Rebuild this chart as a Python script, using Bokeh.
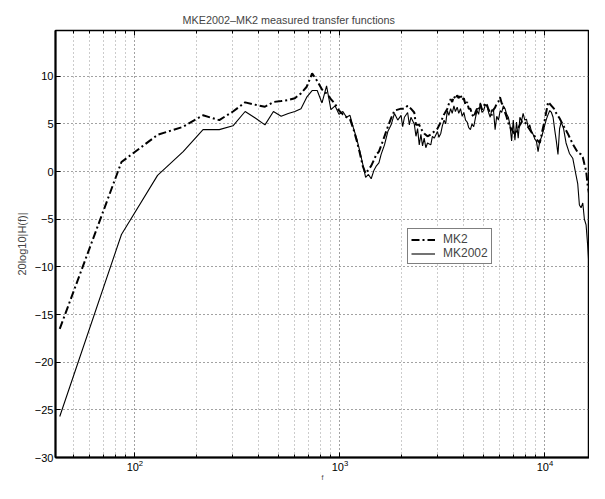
from bokeh.plotting import figure
from bokeh.models import LogAxis, FixedTicker, Legend, LegendItem, Range1d
from bokeh.embed import file_html
from bokeh.resources import INLINE

# ---- data ----
f_mk2002 = [43, 86, 129, 172, 215, 258, 301, 345, 388, 431, 474, 517, 560, 603, 646, 689, 732, 775, 818, 861,
            904, 947, 990, 1034, 1077, 1120, 1163, 1206, 1249, 1292, 1335, 1378, 1421, 1464, 1507, 1550, 1589,
            1650, 1713, 1778, 1846, 1915, 1988, 2024, 2064, 2140, 2182, 2220, 2305, 2350, 2393, 2438, 2484, 2530,
            2577, 2625, 2675, 2775, 2826, 2884, 2992, 3040, 3105, 3160, 3222, 3280, 3343, 3400, 3469, 3530, 3599,
            3660, 3734, 3800, 3875, 3950, 4024, 4100, 4175, 4250, 4331, 4410, 4495, 4580, 4665, 4750, 4841, 4930,
            5024, 5120, 5213, 5310, 5410, 5510, 5614, 5716, 5820, 5934, 6050, 6156, 6270, 6390, 6510, 6630, 6750,
            6880, 7010, 7140, 7270, 7410, 7550, 7690, 7830, 7980, 8130, 8290, 8440, 8600, 8760, 8930, 9090, 9260,
            9440, 9620, 9800, 9990, 10170, 10370, 10560, 10760, 10960, 11160, 11370, 11580, 11790, 12010, 12330,
            12680, 13170, 13670, 14190, 14460, 14730, 15010, 15300, 15580, 15880, 16160, 16470, 16800, 17100,
            17440, 17770, 18100, 18430, 18790]
db_mk2002 = [-25.7, -6.6, -0.4, 2.1, 4.4, 4.4, 4.8, 6.3, 5.6, 4.9, 6.3, 5.8, 6.1, 6.3, 6.6, 7.8, 8.5, 8.5, 7.2, 9.0,
             6.5, 6.9, 6.0, 6.3, 5.7, 5.9, 4.6, 3.5, 2.2, 0.8, -0.6, -0.3, -0.75, 0.1, 0.6, 0.9, 1.8,
             2.8, 4.2, 4.9, 6.1, 5.4, 5.9, 4.7, 5.7, 6.2, 4.9, 5.7, 5.0, 3.7, 4.5, 2.8, 3.9, 2.7,
             3.5, 2.5, 3.0, 2.8, 3.7, 3.5, 4.2, 3.6, 4.0, 4.8, 5.4, 5.0, 6.4, 5.9, 6.6, 6.1, 6.9,
             6.3, 6.75, 6.1, 6.6, 5.8, 6.2, 5.4, 5.2, 4.6, 4.4, 5.0, 4.7, 5.6, 6.4, 6.0, 7.2, 6.2,
             6.4, 7.0, 6.9, 6.2, 5.7, 6.5, 6.4, 4.4, 5.8, 5.4, 6.4, 6.2, 6.9, 6.6, 6.0, 5.7, 4.9,
             3.2, 5.4, 3.3, 5.2, 3.5, 5.7, 5.3, 6.1, 5.4, 5.5, 4.6, 4.9, 4.2, 3.9, 3.4, 3.2, 2.1,
             3.2, 3.6, 4.2, 4.9, 5.5, 6.0, 6.4, 6.2, 5.7, 4.4, 3.2, 1.8, 4.5, 5.2, 4.5,
             3.0, 1.9, 1.4, -0.4, -1.3, -3.5, -3.8, -3.3, -5.0, -5.6, -7.7, -10.5, -12.0, -12.5,
             -13.2, -11.8, -13.5, -11.7, -22.5]

f_mk2 = [43, 86, 129, 172, 215, 258, 301, 345, 388, 431, 474, 517, 560, 603, 646, 689, 732, 775, 818, 861,
         904, 947, 990, 1034, 1077, 1120, 1163, 1206, 1249, 1292, 1335, 1378, 1421, 1464, 1507, 1550, 1589,
         1650, 1713, 1778, 1846, 1915, 1988, 2064, 2140, 2220, 2305, 2350, 2438, 2484, 2577, 2675, 2775, 2884,
         2992, 3105, 3222, 3343, 3400, 3469, 3530, 3599, 3660, 3734, 3800, 3875, 3950, 4024, 4100, 4175, 4250,
         4331, 4410, 4495, 4580, 4665, 4750, 4841, 4930, 5024, 5120, 5213, 5310, 5410, 5510, 5614, 5710, 5810,
         5920, 6040, 6150, 6270, 6390, 6510, 6630, 6750, 6940, 7140, 7350, 7550, 7760, 7980, 8210, 8440, 8680,
         8930, 9180, 9440, 9700, 10000, 10370, 10770, 11070, 11370, 11790, 12240, 12920, 13670, 14460, 15010,
         15300, 15580, 15880, 16160, 16470, 16800, 17100, 17440, 17770, 18100, 18430, 18790]
db_mk2 = [-16.5, 1.0, 3.85, 4.7, 5.9, 5.4, 6.3, 7.26, 7.0, 6.8, 7.3, 7.4, 7.5, 7.7, 8.2, 8.9, 10.3, 9.5, 8.6, 8.2,
          7.6, 7.1, 6.4, 6.0, 5.7, 5.5, 4.5, 3.3, 2.0, 0.6, -0.2, 0.2, 0.6, 1.2, 1.8, 2.1, 2.7,
          3.7, 4.7, 5.6, 6.4, 6.5, 6.6, 6.6, 6.9, 6.6, 6.2, 4.9, 4.9, 4.5, 4.0, 3.7, 3.9, 4.2,
          4.5, 5.2, 6.0, 6.6, 7.1, 7.6, 7.3, 7.9, 7.6, 8.0, 7.7, 8.1, 7.5, 7.7, 7.0, 7.3, 6.6,
          6.6, 6.0, 5.7, 6.2, 6.6, 6.4, 7.1, 6.5, 6.8, 7.2, 7.0, 6.5, 6.2, 5.9, 6.5, 6.7, 7.1,
          7.3, 7.8, 7.2, 6.9, 6.2, 5.7, 5.1, 4.7, 4.3, 3.9, 4.4, 4.9, 5.3, 5.2, 4.8, 4.4, 4.0,
          3.7, 3.3, 3.0, 4.2, 5.5, 7.3, 6.9, 6.6, 6.1, 5.6, 4.9, 4.0, 2.9, 2.0, 1.8,
          1.5, 0.8, 0.1, -1.4, -2.5, -3.8, -5.0, -5.7, -7.4, -9.8, -11.8, -12.5]

x_major = [100, 1000, 10000]
x_minor = [50, 60, 70, 80, 90, 200, 300, 400, 500, 600, 700, 800, 900,
           2000, 3000, 4000, 5000, 6000, 7000, 8000, 9000]
y_ticks = [-30, -25, -20, -15, -10, -5, 0, 5, 10]

FONT = "Liberation Sans"

p = figure(width=589, height=483, x_axis_type="log",
           x_range=Range1d(41, 16500), y_range=Range1d(-30, 14.8),
           output_backend="svg", toolbar_location=None,
           title="MKE2002–MK2 measured transfer functions",
           min_border_left=55, min_border_right=0, min_border_top=30, min_border_bottom=26)

p.title.align = "left"
p.title.offset = 127
p.title.text_font = FONT
p.title.text_font_size = "10.8px"
p.title.text_font_style = "normal"
p.title.standoff = 10

p.background_fill_color = "white"
p.border_fill_color = "white"
p.outline_line_color = "black"
p.outline_line_width = 1.5

xt = FixedTicker(ticks=x_major, minor_ticks=x_minor)
p.xaxis.ticker = xt
p.xaxis.axis_label = "f"
p.xaxis.axis_label_text_font = FONT
p.xaxis.axis_label_text_font_size = "7px"
p.xaxis.axis_label_text_font_style = "normal"
p.xaxis.axis_label_standoff = 0
p.xaxis.major_label_standoff = 2

p.yaxis.ticker = FixedTicker(ticks=y_ticks, minor_ticks=[])
p.yaxis.axis_label = "20log10|H(f)|"
p.yaxis.axis_label_text_font = FONT
p.yaxis.axis_label_text_font_size = "11px"
p.yaxis.axis_label_text_font_style = "normal"
p.yaxis.axis_label_standoff = 4
p.yaxis.major_label_standoff = 2

for ax in (p.xaxis, p.yaxis):
    ax.major_label_text_font = FONT
    ax.major_label_text_font_size = "11px"
    ax.major_label_text_color = "black"
    ax.axis_line_color = "black"
    ax.axis_line_width = 2
    ax.major_tick_in = 5
    ax.major_tick_out = 0
    ax.minor_tick_in = 3
    ax.minor_tick_out = 0
    ax.major_tick_line_color = "black"
    ax.minor_tick_line_color = "black"

top = LogAxis(ticker=xt, major_label_text_font_size="1px", major_label_text_color=None,
              major_label_standoff=0,
              axis_line_color=None, major_tick_in=5, major_tick_out=0,
              minor_tick_in=3, minor_tick_out=0)
p.add_layout(top, "above")

p.xgrid.grid_line_color = "#444444"
p.xgrid.grid_line_dash = "1 3"
p.xgrid.minor_grid_line_color = "#999999"
p.xgrid.minor_grid_line_dash = "1 3"
p.ygrid.grid_line_color = "#444444"
p.ygrid.grid_line_dash = "1 3"

r2 = p.line(f_mk2, db_mk2, line_color="black", line_width=2, line_dash="8 3 2 3")
r1 = p.line(f_mk2002, db_mk2002, line_color="black", line_width=1.1)

legend = Legend(items=[LegendItem(label="MK2", renderers=[r2]),
                       LegendItem(label="MK2002", renderers=[r1])],
                location=(352, 193), orientation="vertical",
                border_line_color="black", border_line_width=1.3,
                background_fill_color="white", background_fill_alpha=1,
                padding=3, spacing=0, margin=0, glyph_width=24, glyph_height=11,
                label_height=11, label_standoff=8,
                label_text_font=FONT, label_text_font_size="12px")
p.add_layout(legend, "center")

open("out.html", "w").write(file_html(p, INLINE))
